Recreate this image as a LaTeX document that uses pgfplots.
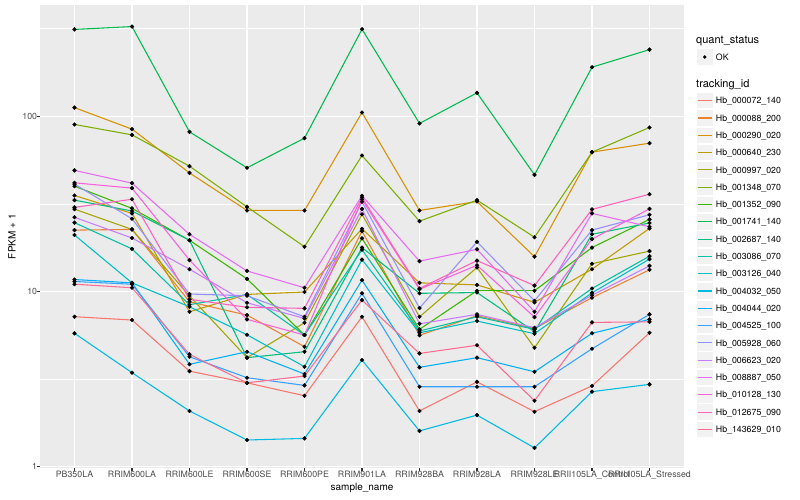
\documentclass[border=0pt]{standalone}
\usepackage{fontspec}
\setmainfont{TeX Gyre Heros}
\usepackage{pgfplots}
\usepackage{pgfplotstable}
\pgfplotsset{compat=1.18}
\definecolor{panelbg}{HTML}{EBEBEB}
\definecolor{keybg}{HTML}{F2F2F2}
\definecolor{gray30}{HTML}{4D4D4D}
\definecolor{gray20}{HTML}{333333}
\definecolor{c1}{HTML}{F8766D}
\definecolor{c2}{HTML}{EA8331}
\definecolor{c3}{HTML}{D89000}
\definecolor{c4}{HTML}{C09B00}
\definecolor{c5}{HTML}{A3A500}
\definecolor{c6}{HTML}{7CAE00}
\definecolor{c7}{HTML}{39B600}
\definecolor{c8}{HTML}{00BB4E}
\definecolor{c9}{HTML}{00BF7D}
\definecolor{c10}{HTML}{00C1A3}
\definecolor{c11}{HTML}{00BFC4}
\definecolor{c12}{HTML}{00BAE0}
\definecolor{c13}{HTML}{00B0F6}
\definecolor{c14}{HTML}{35A2FF}
\definecolor{c15}{HTML}{9590FF}
\definecolor{c16}{HTML}{C77CFF}
\definecolor{c17}{HTML}{E76BF3}
\definecolor{c18}{HTML}{FA62DB}
\definecolor{c19}{HTML}{FF62BC}
\definecolor{c20}{HTML}{FF6C91}
\newcommand\fs{\fontsize{8.8}{10.5}\selectfont}
\newcommand\fl{\fontsize{11}{13}\selectfont}
\pgfplotstableread{
x s1 s2 s3 s4 s5 s6 s7 s8 s9 s10 s11 s12 s13 s14 s15 s16 s17 s18 s19 s20
0 7.18 22.4 112 35.3 29.5 89.8 39.9 313 33.2 24.7 21.0 5.77 11.7 11.4 41.0 26.5 49.1 41.7 30.2 11.0
1 6.87 22.6 84.4 27.9 22.6 78.3 29.8 325 28.8 17.5 11.2 3.44 11.2 11.0 26.0 20.2 41.5 38.9 33.6 10.5
2 3.51 8.73 47.5 7.66 9.42 51.9 19.6 81.5 19.6 8.40 8.18 2.08 3.84 4.24 9.67 13.4 21.2 15.1 9.02 4.38
3 3.01 7.33 29.0 9.62 4.19 30.4 11.8 50.8 4.19 9.62 5.66 1.42 4.53 3.22 9.45 8.62 13.1 6.93 8.12 3.01
4 2.54 4.84 29.0 9.93 6.63 18.0 5.64 75.0 4.53 5.64 3.72 1.45 3.38 2.91 7.17 7.02 10.5 5.64 8.01 3.29
5 7.17 22.1 105 22.8 27.6 59.7 20.1 314 17.8 17.3 15.2 4.06 11.6 9.76 32.5 29.6 35.2 33.5 34.4 8.93
6 2.08 5.62 29.0 11.2 7.17 25.2 6.08 91.0 9.76 5.95 5.81 1.60 3.69 2.86 8.04 6.54 14.9 10.3 10.4 4.43
7 3.05 7.27 32.6 10.9 13.7 33.2 10.1 136 9.86 7.17 6.78 1.97 4.19 2.86 19.2 7.40 17.4 14.1 15.0 4.93
8 2.06 6.15 15.8 8.67 4.77 20.4 10.1 46.3 5.89 6.08 5.74 1.28 3.48 2.86 8.85 6.21 7.66 7.14 10.8 2.38
9 2.89 9.21 62.4 13.4 14.4 62.4 17.8 190.6 21.2 10.4 9.82 2.68 5.77 4.71 22.4 9.51 27.9 19.9 29.4 6.66
10 5.81 13.3 70.2 22.9 17.0 86.3 25.8 240 24.6 15.9 15.3 2.95 6.93 7.40 27.4 14.0 23.4 29.6 35.9 6.71
}\data
\begin{document}
\begin{tikzpicture}[x=1pt,y=1pt]
\useasboundingbox (0,0) rectangle (800,500);
\fill[white] (0,0) rectangle (800,500);
\begin{axis}[
  at={(40pt,31.7pt)}, anchor=south west,
  scale only axis, width=644pt, height=463.3pt,
  xmin=-0.6, xmax=10.6, ymode=log, ymin=0.979, ymax=431.5,
  axis background/.style={fill=panelbg},
  axis line style={draw=none},
  xtick={0,...,10},
  xticklabels={PB350LA,RRIM600LA,RRIM600LE,RRIM600SE,RRIM600PE,RRIM901LA,RRIM928BA,RRIM928LA,RRIM928LE,RRII105LA\_Control,RRII105LA\_Stressed},
  ytick={1,10,100}, yticklabels={1,10,100},
  minor ytick={3.1623,31.623,316.23},
  grid=both,
  major grid style={white, line width=1.07pt},
  minor grid style={white, line width=0.53pt},
  tick pos=left,
  tick align=outside, major tick length=2.75pt, minor tick length=0pt,
  major tick style={gray20, line width=1.07pt},
  ticklabel style={font=\fs, text=gray30, inner sep=0pt},
  xticklabel style={anchor=north, text height=6.3pt, text depth=0pt},
  yticklabel style={anchor=east, text height=6.3pt, text depth=0pt},
  xlabel={sample\_name}, ylabel={FPKM + 1},
  label style={font=\fl},
  every axis x label/.style={at={(axis description cs:0.5,-0.0432)}, anchor=center},
  every axis y label/.style={at={(axis description cs:-0.0435,0.5)}, anchor=center, rotate=90},
  legend style={at={(axis description cs:1.01879,0.90643)}, anchor=north west,
    draw=none, fill=none, inner sep=0pt, outer sep=0pt, row sep=0pt, column sep=2.5pt,
    font=\fs, text=black,
    nodes={inner sep=0pt, text height=6.3pt, text depth=0pt}},
  legend cell align=left,
  legend image code/.code={
    \path[fill=keybg, draw=none] (0.9pt,-7.75pt) rectangle (16.4pt,7.75pt);
    \draw (1.9pt,0pt) -- (15.4pt,0pt);
    \path[draw=none, fill=none] (0pt,-8.65pt) rectangle (17.3pt,8.65pt);
  },
]
\addlegendimage{legend image code/.code={
    \path[fill=keybg, draw=none] (0.9pt,-7.75pt) rectangle (16.4pt,7.75pt);
    \path[fill=black, draw=none] (8.65pt,0pt) circle (1.9pt);
    \path[draw=none, fill=none] (0pt,-8.65pt) rectangle (17.3pt,8.65pt);}}
\addlegendentry{OK}
\addlegendimage{legend image code/.code={\path[draw=none, fill=none] (0pt,-8.65pt) rectangle (17.3pt,17.75pt);}}
\addlegendentry{}
\addplot[c1, line width=1.07pt] table[x=x,y=s1]{\data}; \addlegendentry{Hb\_000072\_140}
\addplot[c2, line width=1.07pt] table[x=x,y=s2]{\data}; \addlegendentry{Hb\_000088\_200}
\addplot[c3, line width=1.07pt] table[x=x,y=s3]{\data}; \addlegendentry{Hb\_000290\_020}
\addplot[c4, line width=1.07pt] table[x=x,y=s4]{\data}; \addlegendentry{Hb\_000640\_230}
\addplot[c5, line width=1.07pt] table[x=x,y=s5]{\data}; \addlegendentry{Hb\_000997\_020}
\addplot[c6, line width=1.07pt] table[x=x,y=s6]{\data}; \addlegendentry{Hb\_001348\_070}
\addplot[c7, line width=1.07pt] table[x=x,y=s7]{\data}; \addlegendentry{Hb\_001352\_090}
\addplot[c8, line width=1.07pt] table[x=x,y=s8]{\data}; \addlegendentry{Hb\_001741\_140}
\addplot[c9, line width=1.07pt] table[x=x,y=s9]{\data}; \addlegendentry{Hb\_002687\_140}
\addplot[c10, line width=1.07pt] table[x=x,y=s10]{\data}; \addlegendentry{Hb\_003086\_070}
\addplot[c11, line width=1.07pt] table[x=x,y=s11]{\data}; \addlegendentry{Hb\_003126\_040}
\addplot[c12, line width=1.07pt] table[x=x,y=s12]{\data}; \addlegendentry{Hb\_004032\_050}
\addplot[c13, line width=1.07pt] table[x=x,y=s13]{\data}; \addlegendentry{Hb\_004044\_020}
\addplot[c14, line width=1.07pt] table[x=x,y=s14]{\data}; \addlegendentry{Hb\_004525\_100}
\addplot[c15, line width=1.07pt] table[x=x,y=s15]{\data}; \addlegendentry{Hb\_005928\_060}
\addplot[c16, line width=1.07pt] table[x=x,y=s16]{\data}; \addlegendentry{Hb\_006623\_020}
\addplot[c17, line width=1.07pt] table[x=x,y=s17]{\data}; \addlegendentry{Hb\_008887\_050}
\addplot[c18, line width=1.07pt] table[x=x,y=s18]{\data}; \addlegendentry{Hb\_010128\_130}
\addplot[c19, line width=1.07pt] table[x=x,y=s19]{\data}; \addlegendentry{Hb\_012675\_090}
\addplot[c20, line width=1.07pt] table[x=x,y=s20]{\data}; \addlegendentry{Hb\_143629\_010}
\pgfplotsinvokeforeach{1,...,20}{
  \addplot[only marks, mark=*, mark size=1.9pt, black, forget plot] table[x=x,y=s#1]{\data};
}
\end{axis}
\node[anchor=base west, font=\fl, inner sep=0pt] at (696,456) {quant\_status};
\node[anchor=base west, font=\fl, inner sep=0pt] at (696,412) {tracking\_id};
\end{tikzpicture}
\end{document}
